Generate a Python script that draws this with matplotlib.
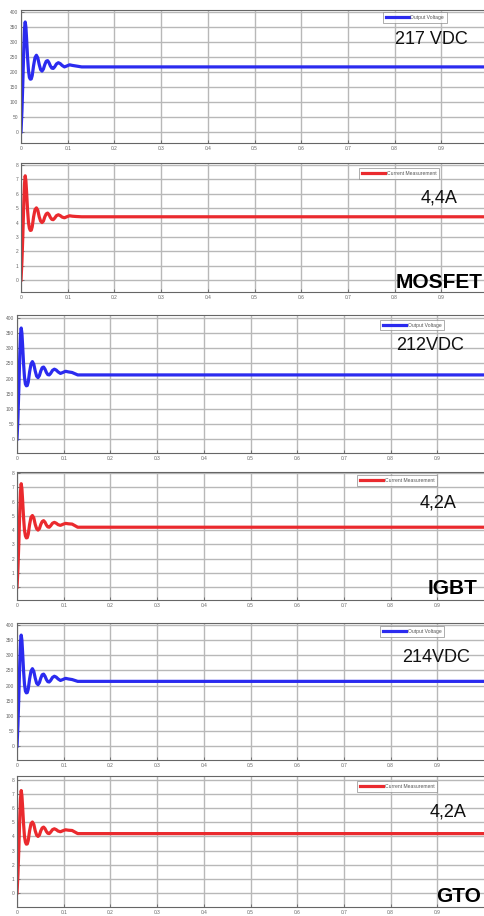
import numpy as np
import matplotlib.pyplot as plt

W, H = 484, 916

# transient (same shape for all three switches)
t_trans = [0, 0.002, 0.004, 0.006, 0.0075, 0.009, 0.0105, 0.012, 0.014, 0.016,
           0.018, 0.020, 0.022, 0.024, 0.027, 0.030, 0.033, 0.036, 0.039, 0.042,
           0.045, 0.048, 0.051, 0.054, 0.057, 0.060, 0.063, 0.066, 0.069, 0.072,
           0.076, 0.080, 0.084, 0.088, 0.093, 0.098, 0.104, 0.110, 0.118]
v_trans = [0, 70, 170, 280, 345, 367, 350, 310, 250, 205,
           182, 176, 177, 188, 222, 248, 256, 247, 225, 208,
           203, 210, 225, 236, 238, 231, 220, 213, 212, 217,
           227, 231, 228, 222, 217, 220, 224, 222, 220]
i_trans = [0, 1.3, 3.2, 5.4, 6.7, 7.25, 6.9, 6.1, 4.9, 4.0,
           3.6, 3.45, 3.47, 3.7, 4.4, 4.9, 5.02, 4.85, 4.4, 4.1,
           4.0, 4.1, 4.4, 4.6, 4.66, 4.55, 4.35, 4.22, 4.2, 4.3,
           4.48, 4.54, 4.48, 4.38, 4.33, 4.4, 4.47, 4.44, 4.42]
t_end = 1.0

switches = ["MOSFET", "IGBT", "GTO"]
v_final = [217, 212, 214]
i_final = [4.4, 4.2, 4.2]
v_labels = ["217 VDC", "212VDC", "214VDC"]
i_labels = ["4,4A", "4,2A", "4,2A"]

v_ticks = [0, 50, 100, 150, 200, 250, 300, 350, 400]
i_ticks = [0, 1, 2, 3, 4, 5, 6, 7, 8]
x_ticks = [0, 0.1, 0.2, 0.3, 0.4, 0.5, 0.6, 0.7, 0.8, 0.9]
x_ticklabels = ["0", "0.1", "0.2", "0.3", "0.4", "0.5", "0.6", "0.7", "0.8", "0.9"]

# panel boxes in pixels: left, top, bottom, ylim
panels = [
    (21, 10, 143, (-37, 407)),
    (21, 163, 292, (-0.83, 8.14)),
    (17, 315, 453, (-46, 410)),
    (17, 472, 600, (-0.9, 8.07)),
    (17, 623, 760, (-46, 407)),
    (17, 776, 907, (-1.0, 8.28)),
]
px_per_tenth = 46.7
right_px = 492

# legend boxes (right, top) and big labels (left x, center y) in pixels
leg_pos = [(447, 12), (439, 168), (444, 320), (437, 475), (444, 626), (437, 781)]
val_pos = [(395, 40), (421, 198), (396, 346), (420, 503), (402, 657), (430, 812)]
name_pos = [(396, 283), (428, 588), (436, 896)]

blue = "#2b2bef"
red = "#ea2a2e"

fig = plt.figure(figsize=(W / 100, H / 100), dpi=100)
fig.patch.set_facecolor("white")
plt.rcParams["font.family"] = ["Liberation Sans", "DejaVu Sans"]


def fx(px):
    return px / W


def fy(py):
    return 1 - py / H


for k, (left, top, bottom, ylim) in enumerate(panels):
    sw = k // 2
    is_v = (k % 2 == 0)
    ax = fig.add_axes([fx(left), fy(bottom), (right_px - left) / W, (bottom - top) / H])
    t = t_trans + [0.13, t_end]
    if is_v:
        y = v_trans + [v_final[sw], v_final[sw]]
        ax.plot(t, y, color=blue, lw=2.3, label="Output Voltage", solid_joinstyle="round")
        ax.set_yticks(v_ticks)
        ax.set_yticklabels([str(v) for v in v_ticks])
    else:
        y = i_trans + [i_final[sw], i_final[sw]]
        ax.plot(t, y, color=red, lw=2.3, label="Current Measurement", solid_joinstyle="round")
        ax.set_yticks(i_ticks)
        ax.set_yticklabels([str(v) for v in i_ticks])
    ax.set_xlim(0, (right_px - left) / px_per_tenth * 0.1)
    ax.set_ylim(*ylim)
    ax.set_xticks(x_ticks)
    ax.set_xticklabels(x_ticklabels)
    ax.grid(True, color="#b8b8b8", lw=1.0)
    ax.set_axisbelow(True)
    ax.tick_params(direction="in", length=2, width=0.5, labelsize=3.5,
                   labelcolor="#666666", color="#555555", pad=2)
    for s in ax.spines.values():
        s.set_color("#666666")
        s.set_linewidth(0.8)

    lx, ly = leg_pos[k]
    leg = ax.legend(loc="upper right", bbox_to_anchor=(fx(lx), fy(ly)),
                    bbox_transform=fig.transFigure, fontsize=3.6, frameon=True,
                    fancybox=False, handlelength=4.5, borderpad=0.55,
                    handletextpad=0.4, borderaxespad=0)
    leg.get_frame().set_edgecolor("#888888")
    leg.get_frame().set_linewidth(0.6)
    for txt in leg.get_texts():
        txt.set_color("#555555")

    tx, ty = val_pos[k]
    fig.text(fx(tx), fy(ty), v_labels[sw] if is_v else i_labels[sw],
             fontsize=13, ha="left", va="center", color="#111111")

for sw, name in enumerate(switches):
    nx, ny = name_pos[sw]
    fig.text(fx(nx), fy(ny), name, fontsize=15, fontweight="bold",
             ha="left", va="center", color="black")

fig.savefig("out.png", dpi=100)
